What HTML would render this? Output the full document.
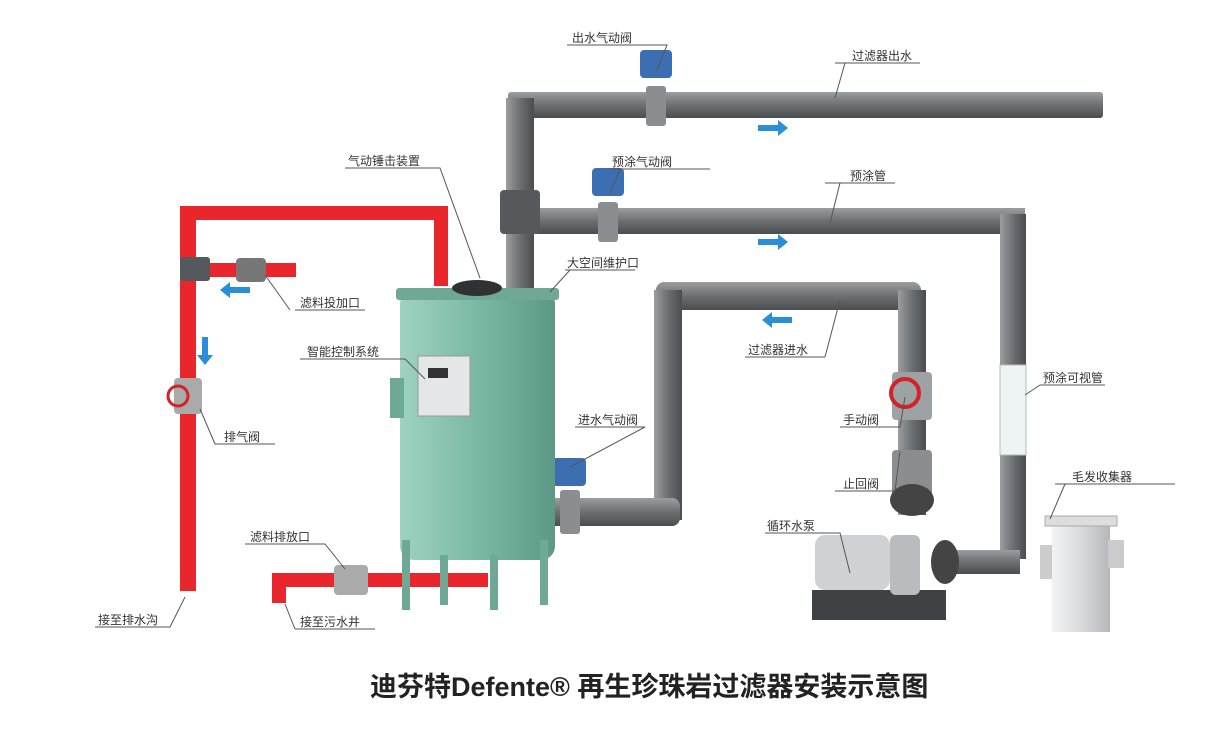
<!DOCTYPE html>
<html><head><meta charset="utf-8"><style>
html,body{margin:0;padding:0;background:#fff;}
svg{display:block}
text{font-family:"Liberation Sans","Noto Sans CJK SC",sans-serif;font-size:12px;fill:#333}
</style></head><body>
<svg width="1214" height="730" viewBox="0 0 1214 730" xmlns="http://www.w3.org/2000/svg">
<defs>
<linearGradient id="gp" x1="0" y1="0" x2="0" y2="1"><stop offset="0" stop-color="#9a9ea1"/><stop offset="0.5" stop-color="#6c7073"/><stop offset="1" stop-color="#4a4d50"/></linearGradient>
<linearGradient id="gpv" x1="0" y1="0" x2="1" y2="0"><stop offset="0" stop-color="#9a9ea1"/><stop offset="0.5" stop-color="#6c7073"/><stop offset="1" stop-color="#4a4d50"/></linearGradient>
<linearGradient id="gt" x1="0" y1="0" x2="1" y2="0"><stop offset="0" stop-color="#9fd2c0"/><stop offset="0.5" stop-color="#7ab9a4"/><stop offset="1" stop-color="#5c9985"/></linearGradient>
<linearGradient id="gh" x1="0" y1="0" x2="1" y2="0"><stop offset="0" stop-color="#f2f3f4"/><stop offset="0.5" stop-color="#d8dadc"/><stop offset="1" stop-color="#b5b8bb"/></linearGradient>
</defs>
<rect x="508" y="92" width="595" height="26" fill="url(#gp)" rx="3"/>
<rect x="506" y="98" width="28" height="190" fill="url(#gpv)"/>
<rect x="520" y="208" width="505" height="26" fill="url(#gp)"/>
<rect x="1000" y="214" width="26" height="345" fill="url(#gpv)"/>
<rect x="940" y="550" width="80" height="24" fill="url(#gp)"/>
<rect x="656" y="282" width="265" height="28" fill="url(#gp)" rx="8"/>
<rect x="654" y="290" width="28" height="230" fill="url(#gpv)"/>
<rect x="540" y="498" width="140" height="28" fill="url(#gp)" rx="8"/>
<rect x="898" y="290" width="28" height="225" fill="url(#gpv)"/>
<rect x="500" y="190" width="40" height="44" fill="#55595c" rx="4"/>
<rect x="646" y="86" width="20" height="40" fill="#8a8e91" rx="3"/>
<rect x="598" y="202" width="20" height="40" fill="#8a8e91" rx="3"/>
<rect x="560" y="490" width="20" height="44" fill="#8a8e91" rx="3"/>
<rect x="892" y="372" width="40" height="48" fill="#9ea2a5" rx="4"/>
<rect x="892" y="450" width="40" height="50" fill="#8a8e91" rx="4"/>
<rect x="1000" y="365" width="26" height="90" fill="#eef3f4" stroke="#bbb"/>
<rect x="640" y="50" width="32" height="28" fill="#3c6fb2" rx="4"/>
<rect x="592" y="168" width="32" height="28" fill="#3c6fb2" rx="4"/>
<rect x="552" y="458" width="34" height="28" fill="#3c6fb2" rx="4"/>
<circle cx="905" cy="393" r="14" fill="none" stroke="#d2232a" stroke-width="4"/>
<rect x="180" y="206" width="264" height="14" fill="#e8262b"/>
<rect x="180" y="206" width="16" height="385" fill="#e8262b"/>
<rect x="434" y="206" width="14" height="80" fill="#e8262b"/>
<rect x="190" y="263" width="106" height="14" fill="#e8262b"/>
<rect x="180" y="257" width="30" height="24" fill="#55595c" rx="3"/>
<rect x="236" y="258" width="30" height="24" fill="#777" rx="4"/>
<rect x="174" y="378" width="28" height="36" fill="#aaa" rx="4"/>
<circle cx="178" cy="396" r="10" fill="none" stroke="#d2232a" stroke-width="3"/>
<rect x="278" y="573" width="210" height="14" fill="#e8262b"/>
<rect x="272" y="573" width="14" height="30" fill="#e8262b"/>
<rect x="334" y="565" width="34" height="30" fill="#aaa" rx="4"/>
<rect x="400" y="290" width="155" height="270" fill="url(#gt)" rx="14"/>
<rect x="396" y="288" width="163" height="12" fill="#6fa894" rx="3"/>
<ellipse cx="477" cy="288" rx="25" ry="8" fill="#2f3234"/>
<rect x="390" y="378" width="14" height="40" fill="#6fa894"/>
<rect x="418" y="356" width="52" height="60" fill="#e5e6e7" stroke="#999"/>
<rect x="428" y="368" width="20" height="10" fill="#333"/>
<rect x="402" y="540" width="8" height="70" fill="#6fa894"/>
<rect x="440" y="555" width="8" height="50" fill="#6fa894"/>
<rect x="490" y="555" width="8" height="55" fill="#6fa894"/>
<rect x="540" y="540" width="8" height="65" fill="#6fa894"/>
<rect x="812" y="590" width="134" height="30" fill="#3f4245"/>
<rect x="815" y="535" width="75" height="55" fill="#cfd2d4" rx="10"/>
<rect x="890" y="535" width="30" height="60" fill="#b9bcbf" rx="6"/>
<ellipse cx="945" cy="562" rx="14" ry="22" fill="#444"/>
<ellipse cx="912" cy="500" rx="22" ry="16" fill="#444"/>
<rect x="1040" y="545" width="25" height="34" fill="#ccc"/>
<rect x="1052" y="520" width="58" height="112" fill="url(#gh)"/>
<rect x="1045" y="516" width="72" height="10" fill="#ddd" stroke="#aaa"/>
<rect x="1108" y="540" width="16" height="28" fill="#ccc"/>
<g fill="#2a8fd6">
<path d="M758 125h20v-5l10 8-10 8v-5h-20z"/>
<path d="M758 239h20v-5l10 8-10 8v-5h-20z"/>
<path d="M792 317h-20v-5l-10 8 10 8v-5h20z"/>
<path d="M250 287h-20v-5l-10 8 10 8v-5h20z"/>
<path d="M202 337v18h-5l8 10 8-10h-5v-18z"/>
</g>
<g stroke="#555" stroke-width="1" fill="none">
<path d="M567 45h100l-10 25"/>
<path d="M835 63h85M845 63l-10 35"/>
<path d="M610 169h100M620 169l-10 25"/>
<path d="M825 183h70M840 183l-10 40"/>
<path d="M345 168h95l40 110"/>
<path d="M565 270h70M570 270l-20 22"/>
<path d="M300 359h105l20 20"/>
<path d="M745 357h80M840 300l-15 57"/>
<path d="M1040 385h65M1040 385l-15 10"/>
<path d="M840 427h60l5-30"/>
<path d="M835 491h60l5-40"/>
<path d="M575 427h70l-75 40"/>
<path d="M215 444h60M215 444l-15-35"/>
<path d="M295 310h70M290 310l-25-35"/>
<path d="M245 544h80l20 25"/>
<path d="M765 533h75l10 40"/>
<path d="M1055 484h120M1065 484l-15 35"/>
<path d="M95 627h75l15-30"/>
<path d="M295 629h80M295 629l-10-25"/>
</g>
<text x="572" y="42">出水气动阀</text>
<text x="852" y="60">过滤器出水</text>
<text x="612" y="166">预涂气动阀</text>
<text x="850" y="180">预涂管</text>
<text x="348" y="165">气动锤击装置</text>
<text x="567" y="267">大空间维护口</text>
<text x="307" y="356">智能控制系统</text>
<text x="748" y="354">过滤器进水</text>
<text x="1043" y="382">预涂可视管</text>
<text x="843" y="424">手动阀</text>
<text x="843" y="488">止回阀</text>
<text x="578" y="424">进水气动阀</text>
<text x="224" y="441">排气阀</text>
<text x="300" y="307">滤料投加口</text>
<text x="250" y="541">滤料排放口</text>
<text x="767" y="530">循环水泵</text>
<text x="1072" y="481">毛发收集器</text>
<text x="98" y="624">接至排水沟</text>
<text x="300" y="626">接至污水井</text>
<text x="370" y="696" style="font-size:27px;font-weight:bold;fill:#222">迪芬特Defente® 再生珍珠岩过滤器安装示意图</text>
</svg>
</body></html>
